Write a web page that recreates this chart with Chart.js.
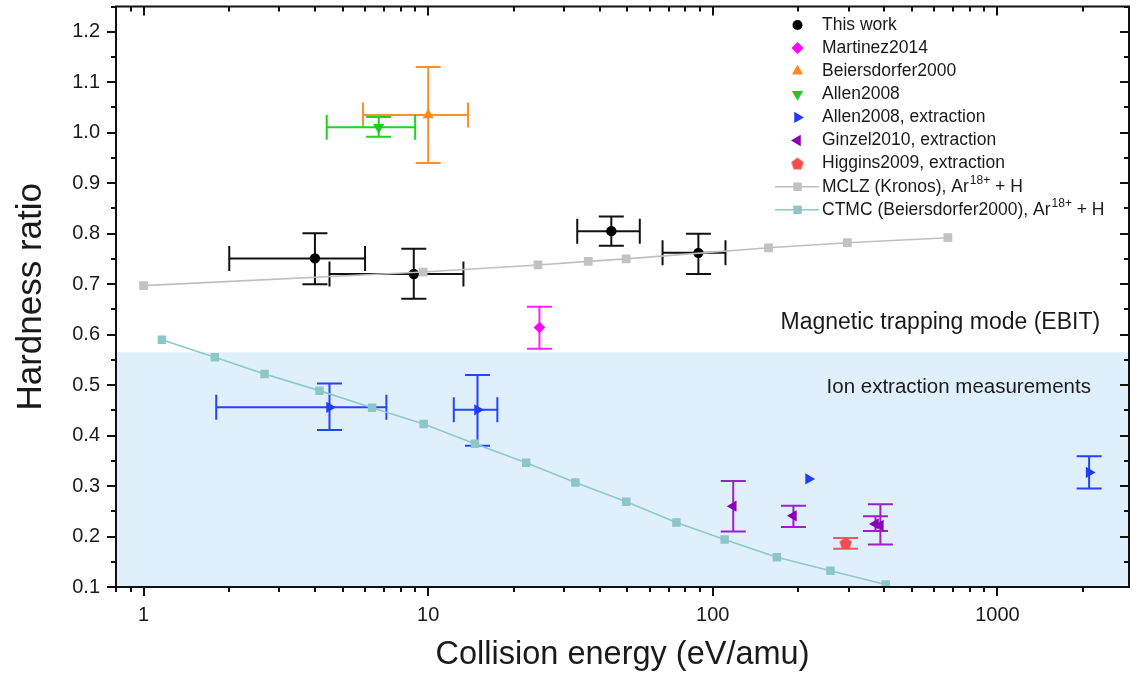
<!DOCTYPE html>
<html>
<head>
<meta charset="utf-8">
<script src="https://cdn.jsdelivr.net/npm/chart.js@4.4.0/dist/chart.umd.min.js"></script>
<style>
  body { margin: 0; background: #fff; }
  #wrap { width: 1138px; height: 678px; }
</style>
</head>
<body>
<div id="wrap"><canvas id="grafico" width="1138" height="678"></canvas></div>
<script>
// ---- data ----
const thisWorkX   = [4.0, 8.9, 44, 89];
const thisWorkY   = [0.751, 0.720, 0.805, 0.762];
const thisWorkXLo = [2.0, 4.5, 33.4, 66.6];
const thisWorkXHi = [6.0, 13.3, 55.4, 110.8];
const thisWorkYLo = [0.700, 0.671, 0.776, 0.720];
const thisWorkYHi = [0.801, 0.770, 0.834, 0.800];

const martinezX   = [24.6];
const martinezY   = [0.614];
const martinezYLo = [0.572];
const martinezYHi = [0.655];

const beiersX   = [10.0];
const beiersY   = [1.035];
const beiersXLo = [5.9];
const beiersXHi = [13.8];
const beiersYLo = [0.940];
const beiersYHi = [1.130];

const allenX   = [6.7];
const allenY   = [1.011];
const allenXLo = [4.4];
const allenXHi = [9.0];
const allenYLo = [0.992];
const allenYHi = [1.031];

const allenExtX   = [4.5, 14.9, 217, 2100];
const allenExtY   = [0.456, 0.451, 0.314, 0.327];
const allenExtXLo = [1.8, 12.3, null, null];
const allenExtXHi = [7.13, 17.5, null, null];
const allenExtYLo = [0.411, 0.380, null, 0.295];
const allenExtYHi = [0.503, 0.520, null, 0.359];

const ginzelX   = [118, 192, 373, 388];
const ginzelY   = [0.260, 0.241, 0.225, 0.222];
const ginzelYLo = [0.210, 0.219, 0.211, 0.184];
const ginzelYHi = [0.310, 0.261, 0.240, 0.264];

const higginsX   = [293];
const higginsY   = [0.187];
const higginsYLo = [0.176];
const higginsYHi = [0.197];

const mclzX = [1.0, 9.6, 24.3, 36.5, 49.6, 157, 297, 670];
const mclzY = [0.697, 0.724, 0.738, 0.745, 0.750, 0.772, 0.782, 0.792];

const ctmcX = [1.16, 1.78, 2.66, 4.15, 6.35, 9.64, 14.6, 22.1, 32.9, 49.7, 74.5, 110, 168, 259, 405];
const ctmcY = [0.590, 0.555, 0.522, 0.489, 0.455, 0.423, 0.384, 0.346, 0.307, 0.269, 0.228, 0.194, 0.159, 0.132, 0.105];

const xTickValues = [1, 10, 100, 1000];
const extractionTop = 0.565;
// --------------------------------

const pts = (xs, ys) => xs.map((x, i) => ({ x: x, y: ys[i] }));

// pentagon marker
const pentagon = document.createElement('canvas');
pentagon.width = 16; pentagon.height = 16;
(function () {
    const c = pentagon.getContext('2d');
    c.fillStyle = '#f04c4c';
    c.beginPath();
    for (let k = 0; k < 5; k++) {
        const a = -Math.PI / 2 + k * 2 * Math.PI / 5;
        const px = 8 + 6.5 * Math.cos(a), py = 8.6 + 6.5 * Math.sin(a);
        k ? c.lineTo(px, py) : c.moveTo(px, py);
    }
    c.closePath(); c.fill();
})();

function marker(color, style, radius, rotation) {
    return {
        showLine: false, backgroundColor: color, borderColor: color,
        pointStyle: style, pointRadius: radius, pointRotation: rotation || 0,
        pointBorderWidth: 0, pointHoverRadius: radius
    };
}

const datasets = [
    { label: 'MCLZ (Kronos)', data: pts(mclzX, mclzY), showLine: true,
        borderColor: '#bfbfbf', borderWidth: 1.6, backgroundColor: '#c2c2c2',
        pointStyle: 'rect', pointRadius: 6.2, pointBorderWidth: 0 },
    { label: 'CTMC (Beiersdorfer2000)', data: pts(ctmcX, ctmcY), showLine: true,
        borderColor: '#8ec9c9', borderWidth: 1.6, backgroundColor: '#8cc6c6',
        pointStyle: 'rect', pointRadius: 6.0, pointBorderWidth: 0 },
    Object.assign(marker('#000000', 'circle', 5.2), { label: 'This work', data: pts(thisWorkX, thisWorkY),
        err: { color: '#111111', xLo: thisWorkXLo, xHi: thisWorkXHi, yLo: thisWorkYLo, yHi: thisWorkYHi } }),
    Object.assign(marker('#ff00ff', 'rectRot', 5.8), { label: 'Martinez2014', data: pts(martinezX, martinezY),
        err: { color: '#ff22ff', yLo: martinezYLo, yHi: martinezYHi } }),
    Object.assign(marker('#ff8a1f', 'triangle', 6.5), { label: 'Beiersdorfer2000', data: pts(beiersX, beiersY),
        err: { color: '#f7922e', xLo: beiersXLo, xHi: beiersXHi, yLo: beiersYLo, yHi: beiersYHi } }),
    Object.assign(marker('#1ccc1c', 'triangle', 6.5, 180), { label: 'Allen2008', data: pts(allenX, allenY),
        err: { color: '#22d022', xLo: allenXLo, xHi: allenXHi, yLo: allenYLo, yHi: allenYHi } }),
    Object.assign(marker('#1f3cff', 'triangle', 6.5, 90), { label: 'Allen2008, extraction', data: pts(allenExtX, allenExtY),
        err: { color: '#2443ff', xLo: allenExtXLo, xHi: allenExtXHi, yLo: allenExtYLo, yHi: allenExtYHi } }),
    Object.assign(marker('#8a00b8', 'triangle', 6.5, -90), { label: 'Ginzel2010, extraction', data: pts(ginzelX, ginzelY),
        err: { color: '#9c20c8', yLo: ginzelYLo, yHi: ginzelYHi } }),
    Object.assign(marker('#f04c4c', pentagon, 6), { label: 'Higgins2009, extraction', data: pts(higginsX, higginsY),
        err: { color: '#f25a5a', yLo: higginsYLo, yHi: higginsYHi } })
];

const legendItems = [
    { text: 'This work', color: '#000000', style: 'circle', r: 5, rot: 0 },
    { text: 'Martinez2014', color: '#ff00ff', style: 'rectRot', r: 6, rot: 0 },
    { text: 'Beiersdorfer2000', color: '#ff8a1f', style: 'triangle', r: 6.5, rot: 0 },
    { text: 'Allen2008', color: '#1ccc1c', style: 'triangle', r: 6.5, rot: 180 },
    { text: 'Allen2008, extraction', color: '#1f3cff', style: 'triangle', r: 6.5, rot: 90 },
    { text: 'Ginzel2010, extraction', color: '#8a00b8', style: 'triangle', r: 6.5, rot: -90 },
    { text: 'Higgins2009, extraction', color: '#f04c4c', style: pentagon, r: 6, rot: 0 },
    { text: 'MCLZ (Kronos), Ar', sup: '18+', tail: ' + H', color: '#c2c2c2', line: '#bfbfbf', style: 'rect', r: 6, rot: 0 },
    { text: 'CTMC (Beiersdorfer2000), Ar', sup: '18+', tail: ' + H', color: '#8cc6c6', line: '#8ec9c9', style: 'rect', r: 6, rot: 0 }
];

const FONT = '"Liberation Sans", Arial, Helvetica, sans-serif';

const backdrop = {
    id: 'backdrop',
    beforeDatasetsDraw(chart) {
        const { ctx, chartArea } = chart;
        const xs = chart.scales.x, ys = chart.scales.y;
        ctx.save();
        ctx.fillStyle = '#dff0fc';
        const top = ys.getPixelForValue(extractionTop);
        ctx.fillRect(chartArea.left, top, chartArea.right - chartArea.left, chartArea.bottom - top);
        ctx.fillStyle = '#1a1a1a';
        ctx.textBaseline = 'middle';
        ctx.font = '23px ' + FONT;
        ctx.fillText('Magnetic trapping mode (EBIT)', xs.getPixelForValue(173), ys.getPixelForValue(0.623));
        ctx.font = '20.5px ' + FONT;
        ctx.fillText('Ion extraction measurements', xs.getPixelForValue(251), ys.getPixelForValue(0.495));
        ctx.restore();
    }
};

const errorBars = {
    id: 'errorBars',
    beforeDatasetsDraw(chart) {
        const { ctx } = chart;
        const xs = chart.scales.x, ys = chart.scales.y;
        const cap = 12.5;
        chart.data.datasets.forEach((ds) => {
            const e = ds.err;
            if (!e) return;
            ctx.save();
            ctx.strokeStyle = e.color;
            ctx.lineWidth = 2;
            ds.data.forEach((p, i) => {
                const px = xs.getPixelForValue(p.x), py = ys.getPixelForValue(p.y);
                ctx.beginPath();
                if (e.xLo && e.xLo[i] != null) {
                    const a = xs.getPixelForValue(e.xLo[i]), b = xs.getPixelForValue(e.xHi[i]);
                    ctx.moveTo(a, py); ctx.lineTo(b, py);
                    ctx.moveTo(a, py - cap); ctx.lineTo(a, py + cap);
                    ctx.moveTo(b, py - cap); ctx.lineTo(b, py + cap);
                }
                if (e.yLo && e.yLo[i] != null) {
                    const a = ys.getPixelForValue(e.yLo[i]), b = ys.getPixelForValue(e.yHi[i]);
                    ctx.moveTo(px, a); ctx.lineTo(px, b);
                    ctx.moveTo(px - cap, a); ctx.lineTo(px + cap, a);
                    ctx.moveTo(px - cap, b); ctx.lineTo(px + cap, b);
                }
                ctx.stroke();
            });
            ctx.restore();
        });
    }
};

const frameTicks = {
    id: 'frameTicks',
    afterDraw(chart) {
        const { ctx, chartArea: ca } = chart;
        const xs = chart.scales.x, ys = chart.scales.y;
        ctx.save();
        ctx.strokeStyle = '#111';
        ctx.lineWidth = 2;
        ctx.strokeRect(ca.left, ca.top, ca.right - ca.left, ca.bottom - ca.top);
        ctx.beginPath();
        for (let k = 2; k <= 25; k++) {
            const v = k * 0.05;
            if (v > ys.max + 1e-9) break;
            const py = Math.round(ys.getPixelForValue(v));
            const len = k % 2 === 0 ? 9 : 5;
            ctx.moveTo(ca.left - len, py); ctx.lineTo(ca.left, py);
            ctx.moveTo(ca.right - len, py); ctx.lineTo(ca.right, py);
        }
        for (let n = -1; n <= 3; n++) {
            for (let k = 1; k <= 9; k++) {
                const v = k * Math.pow(10, n);
                if (v < xs.min || v > xs.max) continue;
                const px = Math.round(xs.getPixelForValue(v));
                const len = k === 1 ? 9 : 5;
                ctx.moveTo(px, ca.bottom); ctx.lineTo(px, ca.bottom + len);
                ctx.moveTo(px, ca.top); ctx.lineTo(px, ca.top + len);
            }
        }
        ctx.stroke();
        ctx.restore();
    }
};

const sideLegend = {
    id: 'sideLegend',
    afterDraw(chart) {
        const { ctx } = chart;
        const helpers = Chart.helpers;
        const mx = 797.5, tx = 822, y0 = 25, dy = 23.1;
        ctx.save();
        legendItems.forEach((it, i) => {
            const y = y0 + i * dy;
            if (it.line) {
                ctx.strokeStyle = it.line; ctx.lineWidth = 1.6;
                ctx.beginPath(); ctx.moveTo(775, y); ctx.lineTo(819, y); ctx.stroke();
            }
            ctx.fillStyle = it.color; ctx.strokeStyle = it.color;
            helpers.drawPoint(ctx, { pointStyle: it.style, radius: it.r, rotation: it.rot, borderWidth: 0 }, mx, y);
            ctx.fillStyle = '#1a1a1a';
            ctx.font = '17.5px ' + FONT;
            ctx.textBaseline = 'middle';
            ctx.fillText(it.text, tx, y);
            if (it.sup) {
                let x = tx + ctx.measureText(it.text).width + 1;
                ctx.font = '12px ' + FONT;
                ctx.fillText(it.sup, x, y - 6);
                x += ctx.measureText(it.sup).width;
                ctx.font = '17.5px ' + FONT;
                ctx.fillText(it.tail, x, y);
            }
        });
        ctx.restore();
    }
};

document.addEventListener('DOMContentLoaded', function () {
    const ctx = document.getElementById('grafico').getContext('2d');
    new Chart(ctx, {
        type: 'scatter',
        data: { datasets: datasets },
        plugins: [backdrop, errorBars, frameTicks, sideLegend],
        options: {
            responsive: false,
            animation: false,
            layout: { padding: { top: 6, right: 9, left: 0, bottom: 0 } },
            plugins: { legend: { display: false }, tooltip: { enabled: false } },
            scales: {
                x: {
                    type: 'logarithmic',
                    min: 0.8, max: 2900,
                    grid: { display: false, drawTicks: false },
                    border: { display: false },
                    afterBuildTicks: (axis) => { axis.ticks = xTickValues.map(v => ({ value: v })); },
                    afterFit: (axis) => { axis.height = 91; axis.paddingLeft = 0; axis.paddingRight = 0; },
                    ticks: {
                        autoSkip: false, maxRotation: 0, padding: 16, color: '#1a1a1a',
                        font: { family: FONT, size: 20 },
                        callback: (v) => String(v)
                    },
                    title: {
                        display: true, text: 'Collision energy (eV/amu)', color: '#1a1a1a',
                        font: { family: FONT, size: 32.5 }, padding: { top: 0, bottom: 3.5 }
                    }
                },
                y: {
                    min: 0.1, max: 1.25,
                    grid: { display: false, drawTicks: false },
                    border: { display: false },
                    afterFit: (axis) => { axis.width = 116; axis.paddingTop = 0; axis.paddingBottom = 0; },
                    ticks: {
                        stepSize: 0.1, includeBounds: false, padding: 16, color: '#1a1a1a',
                        font: { family: FONT, size: 20 },
                        callback: (v) => Number(v).toFixed(1)
                    },
                    title: {
                        display: true, text: 'Hardness ratio', color: '#1a1a1a',
                        font: { family: FONT, size: 35 }, padding: { top: 10, bottom: 0 }
                    }
                }
            }
        }
    });
});
</script>
</body>
</html>
